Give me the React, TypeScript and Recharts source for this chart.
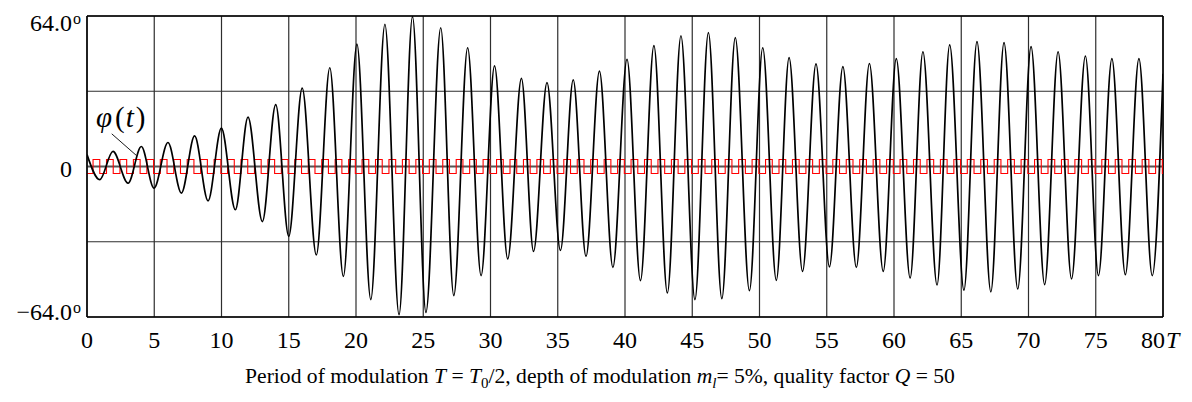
import React from 'react';
import { LineChart, Line, XAxis, YAxis, CartesianGrid, ReferenceLine } from 'recharts';

// x ticks (in units of T) and y ticks (degrees)
const xTicks = [0, 5, 10, 15, 20, 25, 30, 35, 40, 45, 50, 55, 60, 65, 70, 75, 80];
const yTicks = [-64, -32, 0, 32, 64];
const yTickLabels: Record<string, string> = { '64': '64.0', '0': '0', '-64': '−64.0' };

// phi(t): successive extremes of the oscillation
const phiT = [
  0, 0.95, 1.93, 3.05, 4.04, 4.98, 6.02, 7.02, 8.0, 9.0,
  9.99, 11.03, 11.97, 13.04, 14.03, 15.0, 16.0, 17.05, 18.05, 19.06,
  20.07, 21.1, 22.15, 23.2, 24.2, 25.2, 26.3, 27.27, 28.3, 29.3,
  30.3, 31.28, 32.3, 33.2, 34.2, 35.2, 36.15, 37.1, 38.1, 39.1,
  40.15, 41.15, 42.15, 43.15, 44.16, 45.2, 46.2, 47.2, 48.2, 49.25,
  50.24, 51.25, 52.2, 53.2, 54.2, 55.2, 56.2, 57.2, 58.17, 59.2,
  60.17, 61.2, 62.15, 63.2, 64.14, 65.2, 66.17, 67.2, 68.18, 69.2,
  70.19, 71.2, 72.2, 73.2, 74.23, 75.2, 76.2, 77.2, 78.21, 79.2,
  80,
];
const phiV = [
  5.1, -5.6, 6.4, -7.1, 8.5, -9.2, 10.2, -11.3, 13.0, -14.6,
  16.3, -18.4, 21.0, -23.4, 26.3, -29.7, 33.3, -37.6, 42.0, -46.7,
  52.0, -56.6, 60.5, -63.0, 63.7, -62.0, 59.0, -54.9, 50.5, -46.4,
  42.8, -39.3, 37.5, -36.1, 35.7, -35.7, 36.8, -38.2, 40.6, -42.9,
  45.6, -48.5, 51.4, -53.8, 55.6, -56.6, 56.9, -56.2, 54.8, -52.8,
  50.5, -48.4, 46.3, -44.6, 43.6, -42.7, 42.5, -42.9, 43.8, -44.6,
  45.9, -47.4, 48.8, -50.4, 51.7, -52.6, 53.1, -53.3, 52.7, -52.1,
  51.0, -50.2, 48.8, -47.8, 47.0, -46.4, 45.9, -46.0, 45.9, -46.4,
  39.4,
];

// modulation square wave: switching instants and levels
const modT = [
  0,
  0.45, 0.95, 1.45, 1.95, 2.45, 2.95, 3.45, 3.95, 4.45, 4.95,
  5.45, 5.95, 6.45, 6.95, 7.45, 7.95, 8.45, 8.95, 9.45, 9.95,
  10.45, 10.95, 11.45, 11.95, 12.45, 12.95, 13.45, 13.95, 14.45, 14.95,
  15.45, 15.95, 16.45, 16.95, 17.45, 17.95, 18.45, 18.95, 19.45, 19.95,
  20.45, 20.95, 21.45, 21.95, 22.45, 22.95, 23.45, 23.95, 24.45, 24.95,
  25.45, 25.95, 26.45, 26.95, 27.45, 27.95, 28.45, 28.95, 29.45, 29.95,
  30.45, 30.95, 31.45, 31.95, 32.45, 32.95, 33.45, 33.95, 34.45, 34.95,
  35.45, 35.95, 36.45, 36.95, 37.45, 37.95, 38.45, 38.95, 39.45, 39.95,
  40.45, 40.95, 41.45, 41.95, 42.45, 42.95, 43.45, 43.95, 44.45, 44.95,
  45.45, 45.95, 46.45, 46.95, 47.45, 47.95, 48.45, 48.95, 49.45, 49.95,
  50.45, 50.95, 51.45, 51.95, 52.45, 52.95, 53.45, 53.95, 54.45, 54.95,
  55.45, 55.95, 56.45, 56.95, 57.45, 57.95, 58.45, 58.95, 59.45, 59.95,
  60.45, 60.95, 61.45, 61.95, 62.45, 62.95, 63.45, 63.95, 64.45, 64.95,
  65.45, 65.95, 66.45, 66.95, 67.45, 67.95, 68.45, 68.95, 69.45, 69.95,
  70.45, 70.95, 71.45, 71.95, 72.45, 72.95, 73.45, 73.95, 74.45, 74.95,
  75.45, 75.95, 76.45, 76.95, 77.45, 77.95, 78.45, 78.95, 79.45, 79.95,
  80,
];
const modV = [
  -3,
  3, -3, 3, -3, 3, -3, 3, -3, 3, -3,
  3, -3, 3, -3, 3, -3, 3, -3, 3, -3,
  3, -3, 3, -3, 3, -3, 3, -3, 3, -3,
  3, -3, 3, -3, 3, -3, 3, -3, 3, -3,
  3, -3, 3, -3, 3, -3, 3, -3, 3, -3,
  3, -3, 3, -3, 3, -3, 3, -3, 3, -3,
  3, -3, 3, -3, 3, -3, 3, -3, 3, -3,
  3, -3, 3, -3, 3, -3, 3, -3, 3, -3,
  3, -3, 3, -3, 3, -3, 3, -3, 3, -3,
  3, -3, 3, -3, 3, -3, 3, -3, 3, -3,
  3, -3, 3, -3, 3, -3, 3, -3, 3, -3,
  3, -3, 3, -3, 3, -3, 3, -3, 3, -3,
  3, -3, 3, -3, 3, -3, 3, -3, 3, -3,
  3, -3, 3, -3, 3, -3, 3, -3, 3, -3,
  3, -3, 3, -3, 3, -3, 3, -3, 3, -3,
  3, -3, 3, -3, 3, -3, 3, -3, 3, -3,
  -3,
];

// leader line of the phi(t) label, in data units
const leaderFrom = { x: 1.84, y: 13.9 };
const leaderTo = { x: 3.67, y: 4.7 };

const phiData = phiT.map((t, i) => ({ t, v: phiV[i] }));
const modData = modT.map((t, i) => ({ t, v: modV[i] }));

const SERIF = '"Liberation Serif", "Times New Roman", serif';
const W = 1176;
const H = 386;
const TICK_FS = 24;

const XTick = (props: any) => {
  const { x, y, payload } = props;
  const v = payload.value;
  const st = { fontFamily: SERIF, fontSize: TICK_FS, fill: '#000' } as any;
  if (v === 80) {
    return (
      <g>
        <text x={x - 10} y={y + 31} textAnchor="middle" style={st}>80</text>
        <text x={x + 3} y={y + 31} textAnchor="start" style={{ ...st, fontStyle: 'italic' }}>T</text>
      </g>
    );
  }
  return (
    <text x={x} y={y + 31} textAnchor="middle" style={st}>{v}</text>
  );
};

const YTick = (props: any) => {
  const { x, y, payload } = props;
  const v = payload.value;
  const lbl = yTickLabels[String(v)];
  if (!lbl) return <g />;
  const off = v === 64 ? 14 : v === 0 ? 10 : 3;
  const st = { fontFamily: SERIF, fontSize: TICK_FS, fill: '#000' } as any;
  return (
    <g>
      <text x={x - 15} y={y + off} textAnchor="end" style={st}>{lbl}</text>
      {v !== 0 && (
        <text x={x - 14} y={y + off - 7} textAnchor="start" style={{ ...st, fontSize: 16 }}>o</text>
      )}
    </g>
  );
};

export default function App() {
  return (
    <div style={{ position: 'relative', width: W, height: H }}>
      <LineChart width={W} height={H} margin={{ top: 8, right: 21, bottom: 37, left: 0 }}>
        <CartesianGrid stroke="#2e2e2e" strokeWidth={1.2} />
        <XAxis
          dataKey="t"
          type="number"
          domain={[0, 80]}
          ticks={xTicks}
          tick={<XTick />}
          tickLine={false}
          tickSize={0}
          tickMargin={0}
          axisLine={{ stroke: '#000', strokeWidth: 1.5 }}
          height={40}
          allowDataOverflow
        />
        <YAxis
          type="number"
          domain={[-64, 64]}
          ticks={yTicks}
          tick={<YTick />}
          tickLine={false}
          tickSize={0}
          tickMargin={0}
          axisLine={{ stroke: '#000', strokeWidth: 1.5 }}
          width={79}
          allowDataOverflow
        />
        <ReferenceLine y={64} stroke="#000" strokeWidth={1.5} />
        <ReferenceLine x={80} stroke="#000" strokeWidth={1.5} />
        <ReferenceLine y={0} stroke="#555" strokeWidth={2.2} />
        <ReferenceLine segment={[leaderFrom, leaderTo]} stroke="#000" strokeWidth={0.9} />
        <Line
          data={modData}
          dataKey="v"
          type="stepAfter"
          stroke="#ff0000"
          strokeWidth={1.1}
          dot={false}
          activeDot={false}
          isAnimationActive={false}
        />
        <Line
          data={phiData}
          dataKey="v"
          type="monotone"
          stroke="#000"
          strokeWidth={1.7}
          dot={false}
          activeDot={false}
          isAnimationActive={false}
        />
      </LineChart>
      <svg
        width={W}
        height={H}
        style={{ position: 'absolute', left: 0, top: 0, pointerEvents: 'none' }}
      >
        <text x={88} y={119} style={{ fontFamily: SERIF, fontSize: 29, fill: '#000' }}>
          <tspan fontStyle="italic">φ</tspan>
          <tspan dx={3}>(</tspan>
          <tspan dx={1} fontStyle="italic">t</tspan>
          <tspan dx={2}>)</tspan>
        </text>
        <text x={592} y={375} textAnchor="middle" style={{ fontFamily: SERIF, fontSize: 21.6, fill: '#000' }}>
          <tspan>Period of modulation </tspan>
          <tspan fontStyle="italic">T</tspan>
          <tspan> = </tspan>
          <tspan fontStyle="italic">T</tspan>
          <tspan dy={5} fontSize={15}>0</tspan>
          <tspan dy={-5}>/2, depth of modulation </tspan>
          <tspan fontStyle="italic">m</tspan>
          <tspan dy={5} fontSize={15} fontStyle="italic">l</tspan>
          <tspan dy={-5}>= 5%, quality factor </tspan>
          <tspan fontStyle="italic">Q</tspan>
          <tspan> = 50</tspan>
        </text>
      </svg>
    </div>
  );
}
